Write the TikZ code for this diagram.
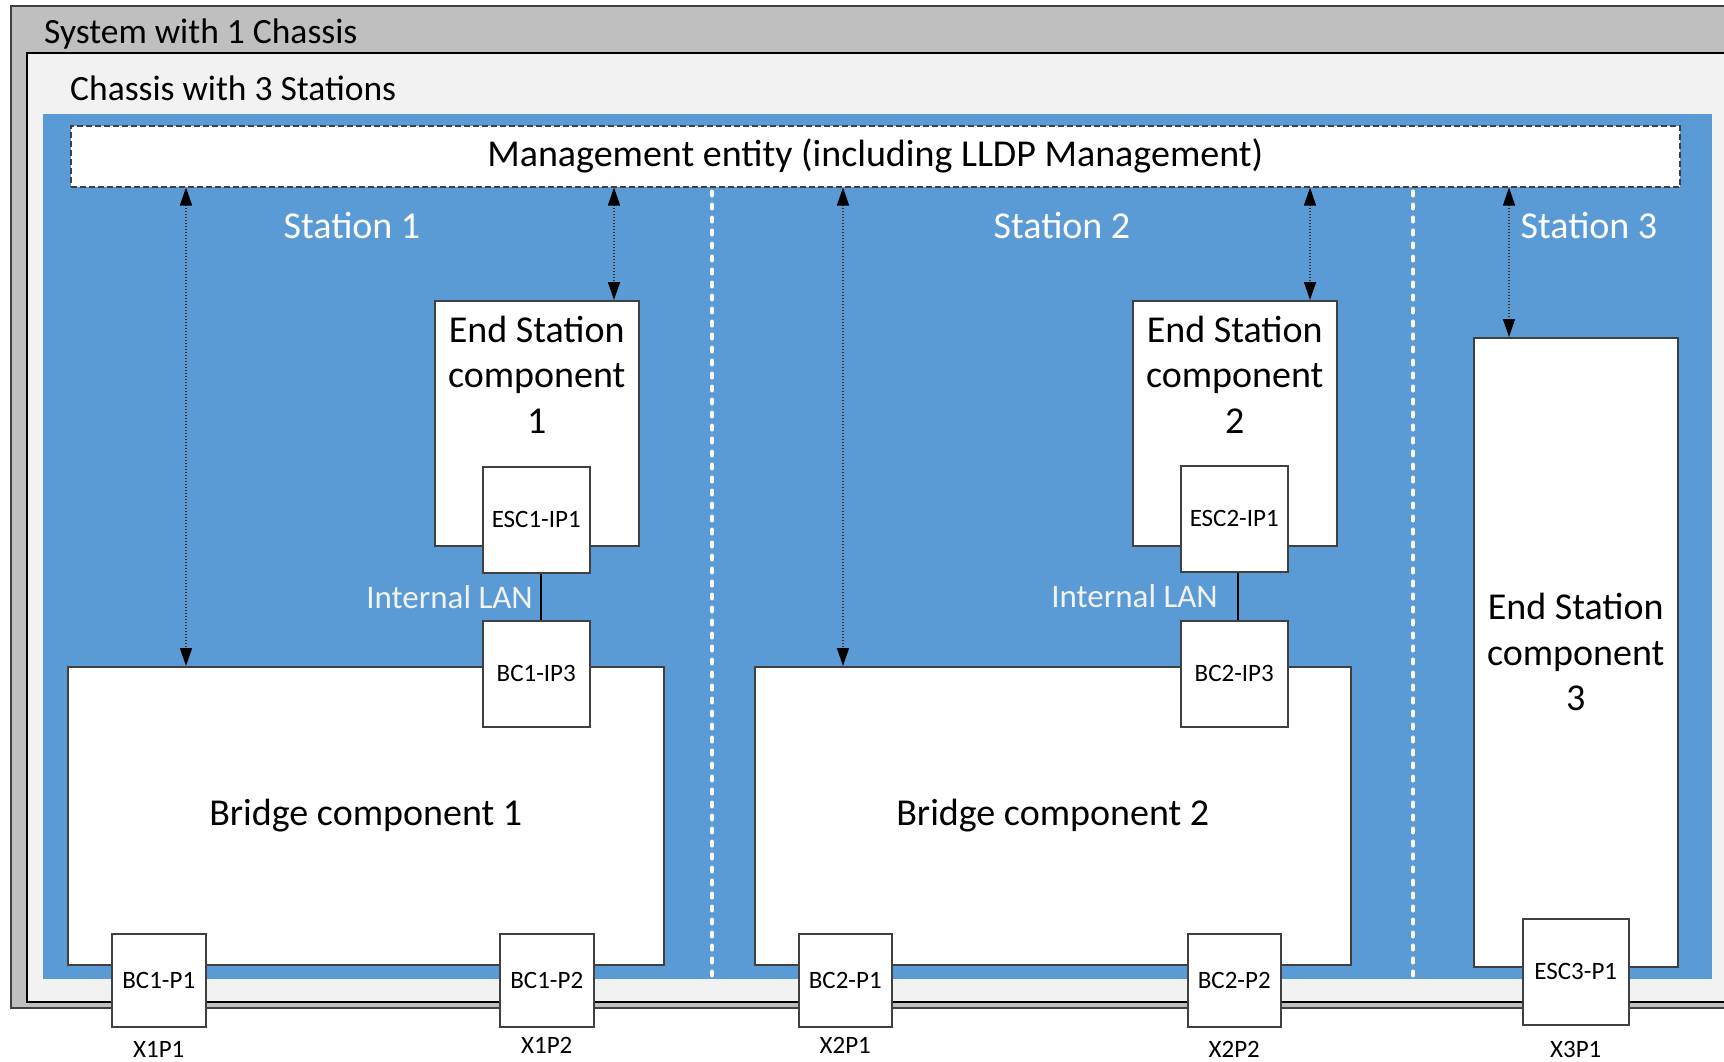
\documentclass[tikz,border=0pt]{standalone}
\usepackage{fontspec}
\setmainfont{Carlito}
\usetikzlibrary{arrows.meta}
\definecolor{sysgray}{HTML}{BFBFBF}
\definecolor{chassisgray}{HTML}{F2F2F2}
\definecolor{stationblue}{HTML}{5B9BD5}
\definecolor{edge}{HTML}{404040}
\tikzset{
  comp/.style={draw=edge, fill=white, line width=1.5pt, inner sep=0pt, anchor=north west},
  bigtext/.style={font=\fontsize{38}{45.5}\selectfont},
  porttext/.style={font=\fontsize{25}{30}\selectfont},
  titletext/.style={font=\fontsize{35.5}{42}\selectfont, inner sep=0pt, anchor=base west},
  stationtext/.style={bigtext, text=white, inner sep=0pt, anchor=base},
  lantext/.style={font=\fontsize{33}{40}\selectfont, text=chassisgray, inner sep=0pt, anchor=base east},
  xlabel/.style={porttext, inner sep=0pt, anchor=base},
  port/.style={comp, porttext},
  divider/.style={draw=white, line width=4pt, line cap=round, dash pattern=on 4pt off 9pt},
  mgline/.style={draw=black!80, line width=1.5pt, dash pattern=on 1.2pt off 1.8pt,
    {Triangle[length=18pt,width=12pt,color=black]}-{Triangle[length=18pt,width=12pt,color=black]}},
  lanline/.style={draw=black, line width=2pt}
}
\begin{document}
\begin{tikzpicture}[x=1pt,y=-1pt]
\useasboundingbox (0,0) rectangle (1724,1061);
\clip (0,0) rectangle (1724,1061);

% enclosing system, chassis and station area
\draw[fill=sysgray, draw=edge, line width=1.5pt] (11,6) rectangle (1760,1008);
\draw[fill=chassisgray, draw=black, line width=2pt] (27,53) rectangle (1760,1002);
\fill[stationblue] (43,114) rectangle (1712,979);
\node[titletext] (systitle) at (44,43) {System with 1 Chassis};
\node[titletext] (chtitle) at (70,100) {Chassis with 3 Stations};

% management entity
\node[comp, draw=edge, dashed, dash pattern=on 6pt off 3pt, minimum width=1609pt, minimum height=61pt, bigtext]
  (mgmt) at (70,125) {Management entity (including LLDP Management)};

% station separators
\coordinate (d1) at (712,979);
\coordinate (d2) at (1413,979);
\draw[divider] ([yshift=-4pt]mgmt.south -| d1) -- (d1);
\draw[divider] ([yshift=-4pt]mgmt.south -| d2) -- (d2);

% station labels
\node[stationtext] (st1) at (352,238) {Station 1};
\node[stationtext] (st2) at (1062,238) {Station 2};
\node[stationtext] (st3) at (1589,238) {Station 3};

% components
\node[comp, minimum width=204pt, minimum height=245pt] (es1) at (434,300) {};
\node[comp, minimum width=596pt, minimum height=298pt, bigtext] (br1) at (67,666) {Bridge component 1};
\node[comp, minimum width=204pt, minimum height=245pt] (es2) at (1132,300) {};
\node[comp, minimum width=596pt, minimum height=298pt, bigtext] (br2) at (754,666) {Bridge component 2};
\node[comp, minimum width=204pt, minimum height=629pt, bigtext, align=center] (es3) at (1473,337) {End Station\\component\\3};

% end station titles (base anchor sits on the last line)
\node[bigtext, align=center, inner sep=0pt, anchor=base] (es1t) at ([yshift=-133pt]es1.north) {End Station\\component\\1};
\node[bigtext, align=center, inner sep=0pt, anchor=base] (es2t) at ([yshift=-133pt]es2.north) {End Station\\component\\2};

% internal ports
\node[port, minimum width=107pt, minimum height=106pt] (esc1ip) at (482,466) {ESC1-IP1};
\node[port, minimum width=107pt, minimum height=106pt] (bc1ip) at (482,620) {BC1-IP3};
\node[port, minimum width=107pt, minimum height=106pt] (esc2ip) at (1180,465) {ESC2-IP1};
\node[port, minimum width=107pt, minimum height=106pt] (bc2ip) at (1180,620) {BC2-IP3};

% internal LANs
\draw[lanline] ([xshift=5pt]esc1ip.south) -- ([xshift=5pt]bc1ip.north);
\draw[lanline] ([xshift=4pt]esc2ip.south) -- ([xshift=4pt]bc2ip.north);
\node[lantext] (lan1) at (533,608) {Internal LAN};
\node[lantext] (lan2) at (1218,607) {Internal LAN};

% management access
\coordinate (a1) at ([xshift=119pt]br1.north west);
\coordinate (a2) at ([xshift=180pt]es1.north west);
\coordinate (a3) at ([xshift=89pt]br2.north west);
\coordinate (a4) at ([xshift=178pt]es2.north west);
\coordinate (a5) at ([xshift=36pt]es3.north west);
\draw[mgline] (mgmt.south -| a1) -- (a1);
\draw[mgline] (mgmt.south -| a2) -- (a2);
\draw[mgline] (mgmt.south -| a3) -- (a3);
\draw[mgline] (mgmt.south -| a4) -- (a4);
\draw[mgline] (mgmt.south -| a5) -- (a5);

% external ports
\node[port, minimum width=94pt, minimum height=93pt] (bc1p1) at (111,933) {BC1-P1};
\node[port, minimum width=94pt, minimum height=93pt] (bc1p2) at (499,933) {BC1-P2};
\node[port, minimum width=93pt, minimum height=93pt] (bc2p1) at (798,933) {BC2-P1};
\node[port, minimum width=93pt, minimum height=93pt] (bc2p2) at (1187,933) {BC2-P2};
\node[port, minimum width=106pt, minimum height=106pt] (esc3p) at (1522,918) {ESC3-P1};

\node[xlabel] (x1p1) at ([yshift=-30pt]bc1p1.south) {X1P1};
\node[xlabel] (x1p2) at ([yshift=-26pt]bc1p2.south) {X1P2};
\node[xlabel] (x2p1) at ([yshift=-26pt]bc2p1.south) {X2P1};
\node[xlabel] (x2p2) at ([yshift=-30pt]bc2p2.south) {X2P2};
\node[xlabel] (x3p1) at ([yshift=-32pt]esc3p.south) {X3P1};
\end{tikzpicture}
\end{document}
